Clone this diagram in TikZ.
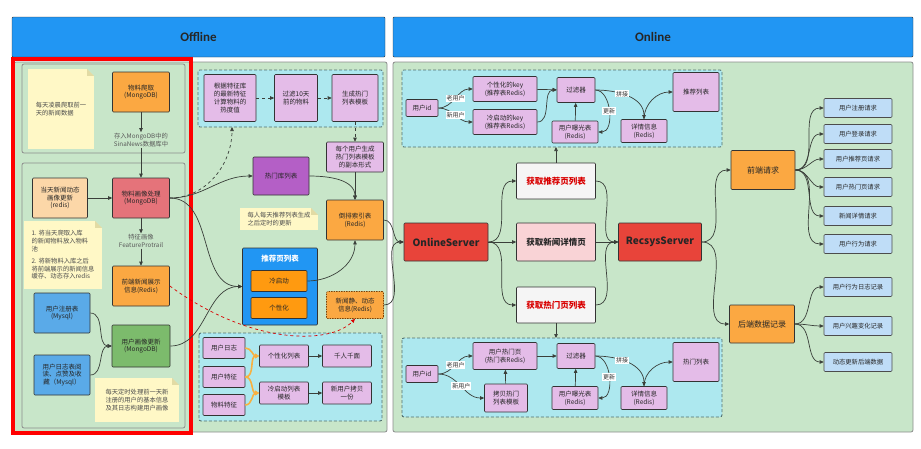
\documentclass[tikz,border=0pt]{standalone}
\usepackage{fontspec}
\setmainfont{Noto Sans CJK SC}
\newfontfamily\headfont{Carlito}
\usetikzlibrary{calc,arrows.meta}

\definecolor{headblue}{HTML}{2196F3}
\definecolor{panelgreen}{HTML}{C8E6C9}
\definecolor{grpcyan}{HTML}{ADE8EF}
\definecolor{grpline}{HTML}{52706E}
\definecolor{boxpink}{HTML}{E4BCE8}
\definecolor{boxorange}{HTML}{FBA842}
\definecolor{brightorange}{HTML}{FF9A10}
\definecolor{boxpeach}{HTML}{FCD7A8}
\definecolor{boxred}{HTML}{E5737A}
\definecolor{boxblue}{HTML}{5AAAE8}
\definecolor{boxgreen}{HTML}{7CBB6C}
\definecolor{boxpurple}{HTML}{B45FC6}
\definecolor{lightblue}{HTML}{BFDDF7}
\definecolor{notey}{HTML}{FFF8C6}
\definecolor{notefold}{HTML}{E2DBA4}
\definecolor{srvred}{HTML}{E8443A}
\definecolor{reqpink}{HTML}{F9D3D6}
\definecolor{linegray}{HTML}{3A3F3A}
\definecolor{curveorange}{HTML}{F8B040}

\tikzset{
  wh/.style 2 args={minimum width=#1pt, minimum height=#2pt},
  box/.style={draw=black!80, line width=0.6pt, rounded corners=1pt, align=center,
    inner sep=1pt, text=black!85, font=\fontsize{6.5}{7.8}\selectfont},
  pbox/.style={box, fill=boxpink},
  obox/.style={box, fill=boxorange},
  rbox/.style={box, fill=lightblue, draw=black!70, font=\fontsize{6.3}{7.5}\selectfont},
  srv/.style={box, fill=srvred, font=\bfseries\fontsize{10}{12}\selectfont},
  getbox/.style={box, fill=black!4, text=red!85!black, font=\bfseries\fontsize{8.5}{10}\selectfont},
  head/.style={draw=black!80, fill=headblue, rounded corners=1pt, text=black!85,
    font=\headfont\bfseries\fontsize{13}{15}\selectfont},
  panel/.style={fill=panelgreen, draw=black!45, line width=0.8pt, rounded corners=2pt},
  grp/.style={fill=grpcyan, draw=grpline, line width=0.9pt, dash pattern=on 3pt off 2pt, rounded corners=2pt},
  note/.style={fill=notey, align=left, inner sep=2pt, text=black!70, font=\fontsize{6.3}{7.6}\selectfont},
  plain/.style={align=center, inner sep=1pt, text=black!65, font=\fontsize{6.3}{7.5}\selectfont},
  lbl/.style={fill=white, inner sep=0.8pt, text=black!80, font=\fontsize{6}{7}\selectfont},
  arr/.style={draw=linegray, line width=0.7pt, -{Triangle[length=4pt,width=3.5pt]}},
  oarr/.style={draw=curveorange, line width=1.6pt, -{Triangle[length=4pt,width=4.5pt]}}
}

\newcommand{\dogear}[1]{%
  \fill[notefold] ($(#1.north east)+(-7,0)$) -- ($(#1.north east)+(-7,7)$) -- ($(#1.north east)+(0,7)$) -- cycle;
  \fill[panelgreen] ($(#1.north east)+(-7,0)$) -- (#1.north east) -- ($(#1.north east)+(0,7)$) -- cycle;}

\begin{document}
\begin{tikzpicture}[x=1pt, y=-1pt]
    \useasboundingbox (0,0) rectangle (921,448);

    %headers
        \node[head, wh={373}{40}] (offh) at (198.5,37) {Offline};
        \node[head, wh={520}{40}] (onh) at (653,37) {Online};

    %panels and dashed groups
        \draw[panel] (14,62) rectangle (387,432);
        \draw[panel] (22,64) rectangle (185,153);
        \draw[panel] (22,163) rectangle (185,428);
        \draw[panel] (393,62) rectangle (913,432);
        \draw[grp] (198,70) rectangle (383,127);
        \draw[grp] (199,333) rectangle (382,421);
        \draw[grp] (402,70) rectangle (722,147);
        \draw[grp] (402,338) rectangle (722,417);

    %offline, left column
        \node[note, wh={66}{80}] (n1) at (61,109) {每天凌晨爬取前一\\天的新闻数据};
        \node[obox, wh={57}{40}] (crawl) at (141,92) {物料爬取\\(MongoDB)};
        \node[plain] (store) at (141,140) {存入MongoDB中的\\SinaNews数据库中};
        \node[box, fill=boxpeach, wh={55}{40}] (dyn) at (60,198) {当天新闻动态\\画像更新\\(redis)};
        \node[box, fill=boxred, wh={57}{40}] (prof) at (141,198) {物料画像处理\\(MongoDB)};
        \node[note, wh={78}{68}] (n2) at (63,255) {1. 将当天爬取入库\\的新闻物料放入物料\\池\\[5pt]2. 将新物料入库之后\\将前端展示的新闻信息\\缓存、动态存入redis};
        \node[plain] (feat) at (141,241) {特征画像\\FeatureProtrail};
        \node[obox, wh={57}{40}] (show) at (141,286) {前端新闻展示\\信息(Redis)};
        \node[box, fill=boxblue, wh={56}{40}] (ureg) at (62,313) {用户注册表\\(Mysql)};
        \node[box, fill=boxblue, wh={56}{40}] (ulog) at (62,375) {用户日志表阅\\读、点赞及收\\藏（Mysql）};
        \node[box, fill=boxgreen, wh={58}{42}] (uprof) at (141,346) {用户画像更新\\(MongoDB)};
        \node[note, wh={84}{44}] (n3) at (137,400) {每天定时处理前一天新\\注册的用户的基本信息\\及其日志构建用户画像};

    %offline, middle column
        \node[pbox, wh={52}{47}] (hot1) at (230,98) {根据特征库\\的最新特征\\计算物料的\\热度值};
        \node[pbox, wh={43}{47}] (hot2) at (296,98) {过滤10天\\前的物料};
        \node[pbox, wh={46}{47}] (hot3) at (355,98) {生成热门\\列表模板};
        \node[pbox, wh={57}{30}] (copy) at (355,157) {每个用户生成\\热门列表模板\\的副本形式};
        \node[box, fill=boxpurple, wh={56}{38}] (hotlib) at (281,176) {热门库列表};
        \node[note, wh={78}{22}] (n4) at (279,219) {每人每天推荐列表生成\\之后定时的更新};
        \node[obox, wh={57}{40}] (rlist) at (355,220) {倒排索引表\\(Redis)};
        \node[box, fill=headblue, wh={75}{77}] (rpage) at (280,286.5) {};
        \node[text=white, font=\bfseries\fontsize{7.5}{9}\selectfont] (rpagetitle) at (280,259) {推荐页列表};
        \node[box, fill=brightorange, wh={56}{21}] (cold) at (279,281) {冷启动};
        \node[box, fill=brightorange, wh={56}{21}] (pers) at (279,308) {个性化};
        \node[obox, draw=orange!50!black, dash pattern=on 1.5pt off 1pt, wh={57}{27}] (ninfo) at (355,305) {新闻静、动态\\信息(Redis)};
        \node[pbox, wh={42}{21}] (ulg) at (224,348) {用户日志};
        \node[pbox, wh={42}{21}] (ufe) at (224,377) {用户特征};
        \node[pbox, wh={42}{21}] (ife) at (224,405) {物料特征};
        \node[pbox, wh={49}{22}] (plist) at (284,356) {个性化列表};
        \node[pbox, wh={49}{22}] (qrqm) at (347,356) {千人千面};
        \node[pbox, wh={49}{22}] (ctpl) at (284,393) {冷启动列表\\模板};
        \node[pbox, wh={49}{22}] (ncopy) at (347,393) {新用户拷贝\\一份};
        \coordinate (hotin) at (232,127);

    %online, recommend page group
        \node[pbox, wh={32}{17}] (uid) at (422,108) {用户id};
        \node[pbox, wh={64}{25}] (pkey) at (505,89) {个性化的key\\(推荐表Redis)};
        \node[pbox, wh={64}{25}] (ckey) at (505,122) {冷启动的key\\(推荐表Redis)};
        \node[pbox, wh={38}{25}] (filt) at (576,90) {过滤器};
        \node[pbox, wh={46}{22}] (expo) at (575,132) {用户曝光表\\(Redis)};
        \node[pbox, wh={46}{23}] (det) at (644,131) {详情信息\\(Redis)};
        \node[pbox, wh={46}{39}] (tlist) at (696,92) {推荐列表};

    %online, servers
        \node[srv, wh={84}{38}] (onsrv) at (446,242) {OnlineServer};
        \node[getbox, wh={79}{36}] (grec) at (556,181) {获取推荐页列表};
        \node[getbox, fill=reqpink, text=black!85, wh={79}{38}] (gdet) at (556,242) {获取新闻详情页};
        \node[getbox, wh={79}{36}] (ghot) at (556,305) {获取热门页列表};
        \node[srv, wh={83}{38}] (rsrv) at (660,242) {RecsysServer};
        \coordinate (topin) at (556,147);
        \coordinate (botin) at (556,338);

    %online, hot page group
        \node[pbox, wh={32}{17}] (uid2) at (422,374) {用户id};
        \node[pbox, wh={64}{27}] (uhot) at (505,356) {用户热门页\\(热门表Redis)};
        \node[pbox, wh={43}{28}] (chot) at (506,398) {拷贝热门\\列表模板};
        \node[pbox, wh={38}{25}] (filt2) at (576,356) {过滤器};
        \node[pbox, wh={46}{23}] (expo2) at (575,398) {用户曝光表\\(Redis)};
        \node[pbox, wh={46}{23}] (det2) at (644,398) {详情信息\\(Redis)};
        \node[pbox, wh={46}{39}] (hlist) at (696,362) {热门列表};

    %online, requests
        \node[obox, wh={64}{39}, font=\fontsize{8}{9}\selectfont] (front) at (763,170) {前端请求};
        \node[obox, wh={65}{38}, font=\fontsize{8}{9}\selectfont] (back) at (762,324) {后端数据记录};

    %folded corners and red frame
        \dogear{n1}
        \dogear{n2}
        \dogear{n3}
        \dogear{n4}
        \draw[red, line width=3.5pt] (13,59) rectangle (191,433);

    %offline connectors
        \draw[arr] (crawl) -- (store);
        \draw[arr] (store) -- (prof);
        \draw[arr] (dyn) -- (prof);
        \draw[arr] (prof) -- (feat);
        \draw[arr] (feat) -- (show);
        \draw[arr] (ureg.east) to[out=0,in=180] (uprof.west);
        \draw[arr] (ulog.east) to[out=0,in=180] (uprof.west);
        \draw[arr] (prof.east) to[out=0,in=180] (hotlib.west);
        \draw[arr, dashed] (prof.east) to[out=0,in=-90] (hotin);
        \draw[arr] (prof.east) to[out=0,in=180] (rpage.west);
        \draw[arr] (uprof.east) to[out=0,in=180] (rpage.west);
        \draw[arr, draw=red!85!black, dashed] (show.east) .. controls (250,345) and (330,345) .. (ninfo.south);
        \draw[arr, dashed] (hot1) -- (hot2);
        \draw[arr, dashed] (hot2) -- (hot3);
        \draw[arr, dashed] (hot3) -- (copy);
        \draw[arr] (copy) -- (rlist);
        \draw[arr] (hotlib.east) to[out=0,in=90] (rlist.north);
        \draw[arr] (cold.east) to[out=0,in=-90] (rlist.south);
        \draw[oarr] (ulg.east) to[out=0,in=180] (plist.west);
        \draw[oarr] (ufe.east) to[out=0,in=180] (plist.west);
        \draw[oarr] (ufe.east) to[out=0,in=180] (ctpl.west);
        \draw[oarr] (ife.east) to[out=0,in=180] (ctpl.west);
        \draw[arr] (plist) -- (qrqm);
        \draw[arr] (ctpl) -- (ncopy);
        \draw[arr] (rlist.east) to[out=0,in=180] (onsrv.west);
        \draw[arr] (ninfo.east) to[out=0,in=180] (onsrv.west);

    %online connectors
        \draw[arr] (uid.east) to[out=0,in=180] node[lbl]{老用户} (pkey.west);
        \draw[arr] (uid.east) to[out=0,in=180] node[lbl]{新用户} (ckey.west);
        \draw[arr] (pkey) -- (filt);
        \draw[arr] (ckey.east) to[out=0,in=180] (filt.west);
        \draw[arr] (expo) -- (filt);
        \draw[arr] (filt.east) to[out=0,in=0] node[lbl]{更新} (expo.east);
        \draw[arr] (filt.east) to[out=0,in=90] node[lbl, pos=0.4]{拼接} (det.north);
        \draw[arr] (det.north) to[out=90,in=180] (tlist.west);

        \draw[arr] (onsrv.east) to[out=0,in=180] (grec.west);
        \draw[arr] (onsrv) -- (gdet);
        \draw[arr] (onsrv.east) to[out=0,in=180] (ghot.west);
        \draw[arr] (grec.east) to[out=0,in=180] (rsrv.west);
        \draw[arr] (gdet) -- (rsrv);
        \draw[arr] (ghot.east) to[out=0,in=180] (rsrv.west);
        \draw[arr] (grec) -- (topin);
        \draw[arr] (ghot) -- (botin);

        \draw[arr] (uid2.east) to[out=0,in=180] node[lbl]{老用户} (uhot.west);
        \draw[arr] (uid2.east) to[out=0,in=180] node[lbl]{新用户} (chot.west);
        \draw[arr] (chot) -- (uhot);
        \draw[arr] (uhot) -- (filt2);
        \draw[arr] (expo2) -- (filt2);
        \draw[arr] (filt2.east) to[out=0,in=0] node[lbl]{更新} (expo2.east);
        \draw[arr] (filt2.east) to[out=0,in=90] node[lbl, pos=0.4]{拼接} (det2.north);
        \draw[arr] (det2.north) to[out=90,in=180] (hlist.west);

        \draw[arr] (rsrv.east) to[out=0,in=180] (front.west);
        \draw[arr] (rsrv.east) to[out=0,in=180] (back.west);
        \foreach \i/\yy/\txt in {1/108/用户注册请求, 2/134/用户登录请求, 3/159/用户推荐页请求,
                                 4/187/用户热门页请求, 5/216/新闻详情请求, 6/244/用户行为请求}{
            \node[rbox, wh={68}{19}] (req\i) at (858,\yy) {\txt};
            \draw[arr] (front.east) to[out=0,in=180] (req\i.west);
        }
        \foreach \i/\yy/\txt in {1/287/用户行为日志记录, 2/326/用户兴趣变化记录, 3/362/动态更新后端数据}{
            \node[rbox, wh={68}{19}] (rec\i) at (858,\yy) {\txt};
            \draw[arr] (back.east) to[out=0,in=180] (rec\i.west);
        }
\end{tikzpicture}
\end{document}
